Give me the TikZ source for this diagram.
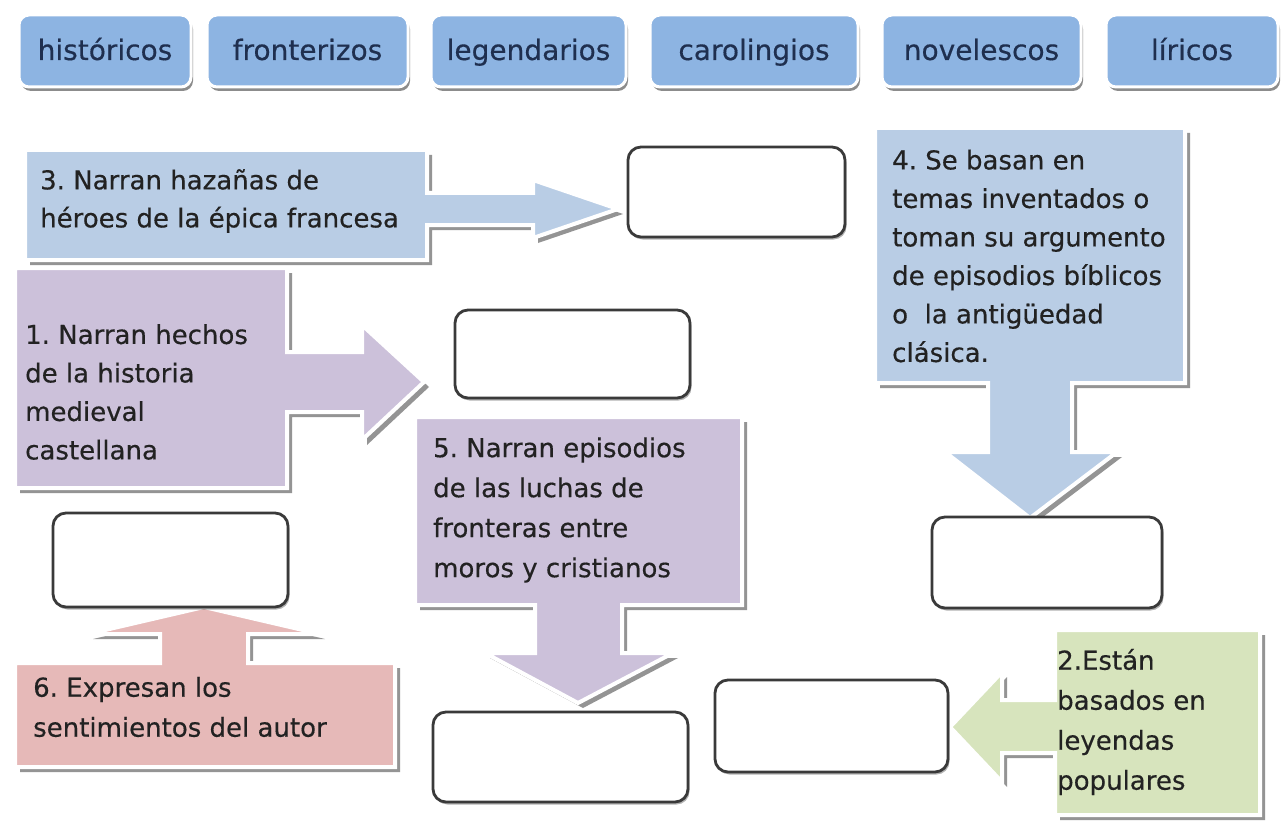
\documentclass[tikz,border=0pt]{standalone}
\usepackage{fontspec}
\setmainfont{DejaVu Sans}[FakeBold=0.4]
\usetikzlibrary{shadows}
\frenchspacing
\definecolor{btnblue}{HTML}{8DB4E2}
\definecolor{lblue}{HTML}{B9CDE5}
\definecolor{lpurple}{HTML}{CCC1DA}
\definecolor{lpink}{HTML}{E6B9B8}
\definecolor{lgreen}{HTML}{D7E4BD}
\definecolor{navy}{HTML}{1F2F4F}
\definecolor{txt}{HTML}{222222}
\definecolor{boxline}{HTML}{3A3A3A}
\newcommand\pathThree[1]{\path[#1] (25,150) -- (427,150) -- (427,193) -- (533,193) -- (533,180) -- (618,209) -- (533,238) -- (533,225) -- (427,225) -- (427,260) -- (25,260) -- cycle;}
\newcommand\pathOne[1]{\path[#1] (15,268) -- (287,268) -- (287,352) -- (362,352) -- (362,325) -- (424,382) -- (362,440) -- (362,412) -- (287,412) -- (287,488) -- (15,488) -- cycle;}
\newcommand\pathFive[1]{\path[#1] (415,417) -- (742,417) -- (742,605) -- (622,605) -- (622,653) -- (673,653) -- (578,703) -- (485,653) -- (535,653) -- (535,605) -- (415,605) -- cycle;}
\newcommand\pathFour[1]{\path[#1] (875,128) -- (1185,128) -- (1185,383) -- (1072,383) -- (1072,452) -- (1117,452) -- (1030,518) -- (945,452) -- (988,452) -- (988,383) -- (875,383) -- cycle;}
\newcommand\pathTwo[1]{\path[#1] (1260,630) -- (1260,815) -- (1055,815) -- (1055,753) -- (1002,753) -- (1002,782) -- (950,727) -- (1002,672) -- (1002,700) -- (1055,700) -- (1055,630) -- cycle;}
\newcommand\pathSix[1]{\path[#1] (15,663) -- (160,663) -- (160,634) -- (88,634) -- (204,607) -- (320,634) -- (248,634) -- (248,663) -- (395,663) -- (395,767) -- (15,767) -- cycle;}
\begin{document}
\begin{tikzpicture}[x=1pt,y=-1pt,
  shadowshape/.style={fill=black!42, shift={(5,5)}},
  calloutshape/.style={fill=#1, draw=white, line width=4pt, line join=miter},
  button/.style={rounded corners=10pt, fill=btnblue, draw=white, line width=3pt,
    text=navy, font=\fontsize{28}{30}\selectfont, minimum height=72pt,
    text height=22pt, text depth=4pt,
    drop shadow={shadow xshift=2pt, shadow yshift=-4pt, fill=black, opacity=0.45}},
  wbox/.style={rounded corners=13pt, fill=white, draw=boxline, line width=2.8pt,
    drop shadow={shadow xshift=1.5pt, shadow yshift=-2.5pt, fill=black, opacity=0.3}},
  ctext/.style={anchor=west, align=left, inner sep=0pt, text=txt}
]
\fill[white] (0,0) rectangle (1284,821);
\useasboundingbox (0,0) rectangle (1284,821);

% top buttons
\node[button, minimum width=172pt] (b1) at (105,51) {históricos};
\node[button, minimum width=201pt] (b2) at (307.5,51) {fronterizos};
\node[button, minimum width=195pt] (b3) at (528.5,51) {legendarios};
\node[button, minimum width=208pt] (b4) at (754,51) {carolingios};
\node[button, minimum width=199pt] (b5) at (981.5,51) {novelescos};
\node[button, minimum width=172pt] (b6) at (1192,51) {líricos};

% callout shadows
\pathThree{shadowshape}
\pathOne{shadowshape}
\pathFive{shadowshape}
\pathFour{shadowshape}
\pathTwo{shadowshape}
\pathSix{shadowshape}

% callout shapes
\pathThree{calloutshape=lblue}
\pathOne{calloutshape=lpurple}
\pathFive{calloutshape=lpurple}
\pathFour{calloutshape=lblue}
\pathTwo{calloutshape=lgreen}
\pathSix{calloutshape=lpink}

% callout texts
\node[ctext, font=\fontsize{26}{38}\selectfont] (t3) at (40,201)
  {3. Narran hazañas de\\héroes de la épica francesa};
\node[ctext, font=\fontsize{26}{38.5}\selectfont] (t1) at (25,392)
  {1. Narran hechos\\de la historia\\medieval\\castellana};
\node[ctext, font=\fontsize{26}{40}\selectfont] (t5) at (433,510)
  {5. Narran episodios\\de las luchas de\\fronteras entre\\moros y cristianos};
\node[ctext, font=\fontsize{26}{38.5}\selectfont] (t4) at (892,256)
  {4. Se basan en\\temas inventados o\\toman su argumento\\de episodios bíblicos\\o\ \ la antigüedad\\clásica.};
\node[ctext, font=\fontsize{26}{40}\selectfont] (t2) at (1057,722)
  {2.Están\\basados en\\leyendas\\populares};
\node[ctext, font=\fontsize{26}{40}\selectfont] (t6) at (33,707)
  {6. Expresan los\\sentimientos del autor};

% empty answer boxes
\node[wbox, minimum width=217pt, minimum height=90pt] (bA) at (736.5,192) {};
\node[wbox, minimum width=235pt, minimum height=88pt] (bB) at (572.5,354) {};
\node[wbox, minimum width=230pt, minimum height=91pt] (bC) at (1047,562.5) {};
\node[wbox, minimum width=235pt, minimum height=94pt] (bD) at (170.5,560) {};
\node[wbox, minimum width=255pt, minimum height=90pt] (bE) at (560.5,757) {};
\node[wbox, minimum width=233pt, minimum height=92pt] (bF) at (831.5,726) {};
\end{tikzpicture}
\end{document}
